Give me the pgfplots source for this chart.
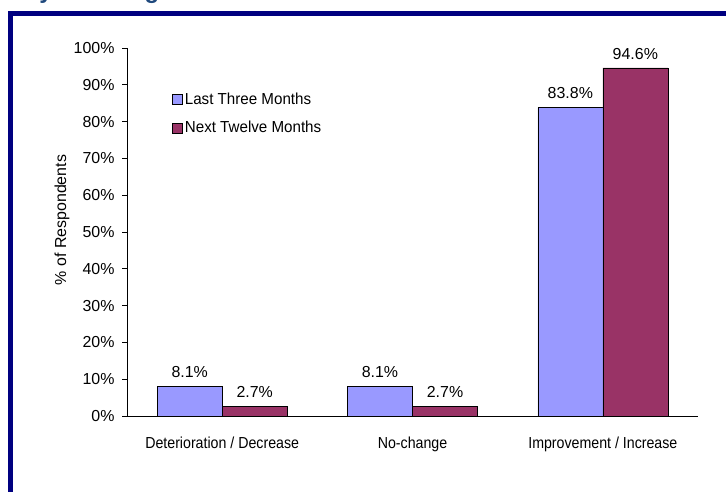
\documentclass[border=0pt]{standalone}
\usepackage{pgfplots}
\pgfplotsset{compat=1.18}
\usepackage{fontspec}
\setmainfont{Liberation Sans}
\newfontfamily\condensed[FakeStretch=0.89]{Liberation Sans}
\newfontfamily\legfont[FakeStretch=0.95]{Liberation Sans}
\definecolor{barblue}{HTML}{9999FF}
\definecolor{barred}{HTML}{993366}
\definecolor{framenavy}{HTML}{000080}
\definecolor{titleblue}{HTML}{1F497D}
\begin{document}
\begin{tikzpicture}[x=1bp,y=1bp]
\path[use as bounding box] (0,0) rectangle (726,-492);
\fill[white] (0,0) rectangle (726,-492);
\fill[framenavy] (8,-11) rectangle (726,-16);
\fill[framenavy] (8,-11) rectangle (13,-492);
\begin{scope}
\clip (0,0) rectangle (726,-10);
\node[anchor=base, inner sep=0pt, font=\bfseries\fontsize{24}{24}\selectfont, text=titleblue] at (46,1) {y};
\node[anchor=base, inner sep=0pt, font=\bfseries\fontsize{24}{24}\selectfont, text=titleblue] at (152,1) {g};
\end{scope}
\begin{axis}[
  at={(127bp,-416bp)}, anchor=south west,
  scale only axis, width=571bp, height=368bp,
  xmin=-0.5, xmax=2.5, ymin=0, ymax=100,
  axis x line=bottom, axis y line=left,
  axis line style={-, black, line width=0.8bp},
  ybar=0pt, bar width=65bp,
  ytick={0,10,...,100},
  yticklabel={\pgfmathprintnumber{\tick}\%},
  /pgf/number format/assume math mode=true,
  tick align=outside,
  major tick length=5bp, minor tick length=6bp,
  y tick style={black, line width=0.8bp},
  xtick={0,1,2},
  xticklabels={Deterioration / Decrease, No-change, Improvement / Increase},
  x tick style={draw=none},
  minor xtick={-0.5,0.5,1.5,2.5},
  minor x tick style={black, line width=0.8bp},
  yticklabel style={font=\fontsize{16}{18}\selectfont, xshift=-4bp},
  xticklabel style={font=\condensed\fontsize{16}{18}\selectfont, yshift=-12bp},
  nodes near coords={\pgfmathprintnumber[fixed,fixed zerofill,precision=1]{\pgfplotspointmeta}\%},
  nodes near coords style={font=\fontsize{16}{18}\selectfont, yshift=5bp, /pgf/number format/assume math mode=true},
  legend style={at={(0.079,0.883)}, anchor=north west, draw=none, fill=none,
    font=\legfont\fontsize{16}{18}\selectfont, row sep=11bp, inner sep=0pt,
    /tikz/every even column/.append style={column sep=2bp}},
  legend image code/.code={\draw[#1, draw=black, line width=0.6bp] (0bp,-5bp) rectangle (10bp,5bp);},
  legend cell align=left,
  clip=false,
]
\addplot[fill=barblue, draw=black, line width=0.6bp] coordinates {(0,8.1) (1,8.1) (2,83.8)};
\addplot[fill=barred, draw=black, line width=0.6bp] coordinates {(0,2.7) (1,2.7) (2,94.6)};
\legend{Last Three Months, Next Twelve Months}
\end{axis}
\node[rotate=90, font=\fontsize{16}{18}\selectfont] at (62,-220) {\% of Respondents};
\end{tikzpicture}
\end{document}
